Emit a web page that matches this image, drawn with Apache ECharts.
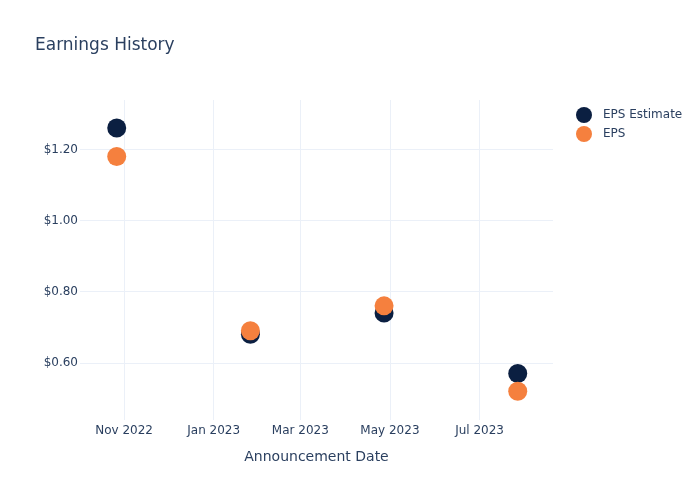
<!DOCTYPE html>
<html><head><meta charset="utf-8">
<script src="https://cdn.jsdelivr.net/npm/echarts@6/dist/echarts.min.js"></script>
<style>html,body{margin:0;padding:0;background:#fff}#c{width:700px;height:500px}</style>
</head><body><div id="c"></div>
<script>
const dates = ['2022-10-27', '2023-01-26', '2023-04-27', '2023-07-27'];
const epsEstimate = [1.26, 0.68, 0.74, 0.57];
const eps = [1.18, 0.69, 0.76, 0.52];
const seriesNames = ['EPS Estimate', 'EPS'];
const xTicks = ['2022-11-01', '2023-01-01', '2023-03-01', '2023-05-01', '2023-07-01'];
const yTicks = [0.6, 0.8, 1.0, 1.2];

const font = 'DejaVu Sans';
const txt = '#2a3f5f';
const grid = '#ebf0f8';
const ts = s => +new Date(s + 'T00:00:00Z');
const chart = echarts.init(document.getElementById('c'));
chart.setOption({
  animation: false,
  textStyle: {fontFamily: font},
  title: {text: 'Earnings History', left: 30, top: 32, textStyle: {fontFamily: font, fontSize: 17, fontWeight: 'normal', color: txt}},
  legend: {
    orient: 'vertical', left: 571, top: 102, itemGap: 3, itemWidth: 18, itemHeight: 16,
    icon: 'circle', textStyle: {fontFamily: font, fontSize: 12, color: txt, padding: [0, 0, 0, 5]},
    data: seriesNames
  },
  grid: {left: 80, right: 147, top: 100, bottom: 80, containLabel: false},
  xAxis: {
    type: 'value',
    min: ts('2022-10-02'), max: ts('2023-08-20'),
    name: 'Announcement Date', nameLocation: 'middle', nameGap: 30,
    nameTextStyle: {fontFamily: font, fontSize: 14, color: txt},
    axisLine: {show: false}, axisTick: {show: false},
    axisLabel: {
      customValues: xTicks.map(ts),
      formatter: v => echarts.time.format(v, '{MMM} {yyyy}', true),
      color: txt, fontSize: 12, fontFamily: font, margin: 5
    },
    splitLine: {show: false}
  },
  yAxis: {
    type: 'value', min: 0.439, max: 1.339,
    axisLine: {show: false}, axisTick: {show: false},
    axisLabel: {
      color: txt, fontSize: 12, fontFamily: font, margin: 2,
      customValues: yTicks,
      formatter: v => '$' + v.toFixed(2)
    },
    splitLine: {show: false}
  },
  series: [
    {name: seriesNames[0], type: 'scatter', symbolSize: 19, itemStyle: {color: '#0b1f41', opacity: 1},
     data: dates.map((d, i) => [ts(d), epsEstimate[i]]),
     markLine: {silent: true, symbol: 'none', label: {show: false}, lineStyle: {color: grid, width: 1, type: 'solid'}, z: 0,
       data: yTicks.map(v => ({yAxis: v})).concat(xTicks.map(d => ({xAxis: ts(d)})))}},
    {name: seriesNames[1], type: 'scatter', symbolSize: 19, itemStyle: {color: '#f5803e', opacity: 1},
     data: dates.map((d, i) => [ts(d), eps[i]])}
  ]
});
</script></body></html>
